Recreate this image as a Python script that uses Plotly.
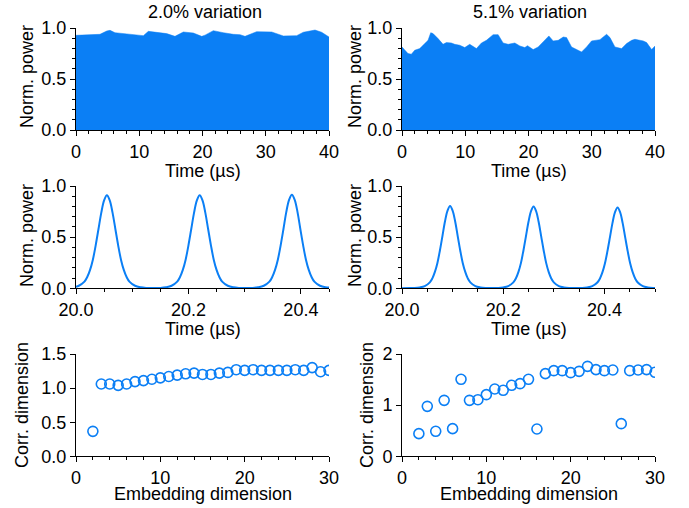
import plotly.graph_objects as go
from plotly.subplots import make_subplots

# --- row 1: pulse-train envelope over 40 us ---
env_t_a = [0, 1.69, 3.79, 4.85, 5.38, 6.17, 7.48, 9.06, 10.65, 11.44, 13.02, 14.33, 15.65,
           16.97, 18.55, 19.87, 20.4, 21.71, 23.29, 24.87, 25.93, 26.72, 28.56, 30.14, 30.94,
           32.78, 34.89, 35.94, 37.79, 38.84, 40]
env_p_a = [0.928, 0.935, 0.938, 0.97, 0.977, 0.954, 0.945, 0.935, 0.925, 0.967, 0.958, 0.945,
           0.918, 0.961, 0.951, 0.918, 0.93, 0.974, 0.954, 0.938, 0.935, 0.918, 0.964, 0.958,
           0.961, 0.922, 0.925, 0.958, 0.98, 0.958, 0.912]

env_t_b = [0, 0.42, 0.95, 1.48, 2.01, 2.80, 3.59, 4.12, 4.54, 4.91, 5.70, 6.49, 7.02, 7.81,
           8.34, 9.13, 9.92, 10.71, 11.77, 12.56, 13.35, 14.41, 15.20, 15.99, 16.78, 17.84,
           18.63, 19.42, 19.84, 20.74, 21.53, 22.32, 23.22, 23.90, 24.70, 25.49, 26.02, 26.81,
           27.60, 28.39, 29.18, 29.97, 31.29, 32.35, 32.88, 33.67, 34.72, 35.51, 36.31, 36.83,
           38.15, 38.68, 39.47, 40]
env_p_b = [0.814, 0.788, 0.749, 0.743, 0.782, 0.798, 0.847, 0.879, 0.954, 0.945, 0.896, 0.84,
           0.857, 0.853, 0.84, 0.831, 0.808, 0.84, 0.798, 0.853, 0.879, 0.935, 0.935, 0.853,
           0.84, 0.853, 0.824, 0.808, 0.827, 0.788, 0.814, 0.863, 0.922, 0.873, 0.879, 0.912,
           0.906, 0.814, 0.788, 0.765, 0.814, 0.873, 0.886, 0.938, 0.906, 0.814, 0.798, 0.847,
           0.879, 0.889, 0.873, 0.857, 0.788, 0.824]

# --- row 2: zoom on individual pulses ---
zoom_t_a = [20.000, 20.005, 20.015, 20.020, 20.025, 20.030, 20.035, 20.040, 20.045, 20.050,
            20.055, 20.060, 20.065, 20.070, 20.075, 20.080, 20.085, 20.090, 20.095, 20.105,
            20.115, 20.125, 20.137, 20.150, 20.160, 20.170, 20.180, 20.185, 20.190, 20.195,
            20.200, 20.205, 20.210, 20.215, 20.220, 20.225, 20.230, 20.235, 20.240, 20.245,
            20.250, 20.255, 20.260, 20.270, 20.280, 20.290, 20.302, 20.314, 20.324, 20.334,
            20.344, 20.349, 20.354, 20.359, 20.364, 20.369, 20.374, 20.379, 20.384, 20.389,
            20.394, 20.399, 20.404, 20.409, 20.414, 20.419, 20.424, 20.434, 20.444, 20.450]
zoom_p_a = [0.016, 0.025, 0.065, 0.11, 0.18, 0.28, 0.42, 0.58, 0.74, 0.86,
            0.91, 0.86, 0.74, 0.58, 0.42, 0.28, 0.18, 0.11, 0.065, 0.025,
            0.01, 0.004, 0.002, 0.004, 0.01, 0.025, 0.065, 0.11, 0.18, 0.28,
            0.42, 0.58, 0.74, 0.86, 0.91, 0.86, 0.74, 0.58, 0.42, 0.28,
            0.18, 0.11, 0.065, 0.025, 0.01, 0.004, 0.002, 0.004, 0.01, 0.025,
            0.065, 0.11, 0.18, 0.28, 0.42, 0.58, 0.745, 0.865, 0.915, 0.865,
            0.745, 0.58, 0.42, 0.28, 0.18, 0.11, 0.065, 0.025, 0.01, 0.007]

zoom_t_b = [20.000, 20.015, 20.025, 20.035, 20.045, 20.055, 20.060, 20.065, 20.070, 20.075,
            20.080, 20.085, 20.090, 20.095, 20.100, 20.105, 20.110, 20.115, 20.120, 20.125,
            20.130, 20.135, 20.145, 20.155, 20.165, 20.178, 20.190, 20.200, 20.210, 20.220,
            20.225, 20.230, 20.235, 20.240, 20.245, 20.250, 20.255, 20.260, 20.265, 20.270,
            20.275, 20.280, 20.285, 20.290, 20.295, 20.300, 20.310, 20.320, 20.330, 20.343,
            20.356, 20.366, 20.376, 20.386, 20.391, 20.396, 20.401, 20.406, 20.411, 20.416,
            20.421, 20.426, 20.431, 20.436, 20.441, 20.446, 20.451, 20.456, 20.461, 20.466,
            20.476, 20.486, 20.496, 20.500]
zoom_p_b = [0.001, 0.002, 0.0035, 0.009, 0.022, 0.058, 0.097, 0.16, 0.248, 0.372,
            0.513, 0.655, 0.76, 0.805, 0.76, 0.655, 0.513, 0.372, 0.248, 0.16,
            0.097, 0.058, 0.022, 0.009, 0.0035, 0.002, 0.0035, 0.009, 0.022, 0.058,
            0.096, 0.158, 0.246, 0.37, 0.51, 0.65, 0.755, 0.80, 0.755, 0.65,
            0.51, 0.37, 0.246, 0.158, 0.096, 0.058, 0.022, 0.009, 0.0035, 0.002,
            0.0035, 0.009, 0.021, 0.057, 0.094, 0.155, 0.242, 0.363, 0.50, 0.64,
            0.745, 0.79, 0.745, 0.64, 0.50, 0.363, 0.242, 0.155, 0.094, 0.057,
            0.021, 0.009, 0.0035, 0.003]

# --- row 3: correlation dimension vs embedding dimension ---
embed_dim = list(range(2, 31))
corr_dim_a = [0.366, 1.06, 1.06, 1.04, 1.06, 1.095, 1.11, 1.13, 1.15, 1.17, 1.19, 1.21, 1.22,
              1.20, 1.20, 1.22, 1.23, 1.27, 1.26, 1.27, 1.26, 1.26, 1.26, 1.26, 1.27, 1.26,
              1.30, 1.24, 1.26]
corr_dim_b = [0.443, 0.977, 0.489, 1.094, 0.541, 1.505, 1.094, 1.107, 1.205, 1.316, 1.29,
              1.388, 1.42, 1.505, 0.534, 1.616, 1.674, 1.674, 1.635, 1.661, 1.759, 1.694,
              1.674, 1.687, 0.638, 1.674, 1.687, 1.694, 1.642]

titles = ["2.0% variation", "5.1% variation"]

BLUE = "#0b7ff5"
FONT = "Liberation Sans, Arial, sans-serif"
W, H = 689, 508

fig = make_subplots(rows=3, cols=2)

fig.add_trace(go.Scatter(x=env_t_a, y=env_p_a, mode="lines", fill="tozeroy",
                         fillcolor=BLUE, line=dict(color=BLUE, width=0.5)), row=1, col=1)
fig.add_trace(go.Scatter(x=env_t_b, y=env_p_b, mode="lines", fill="tozeroy",
                         fillcolor=BLUE, line=dict(color=BLUE, width=0.5)), row=1, col=2)
fig.add_trace(go.Scatter(x=zoom_t_a, y=zoom_p_a, mode="lines", line_shape="spline",
                         line=dict(color=BLUE, width=2)), row=2, col=1)
fig.add_trace(go.Scatter(x=zoom_t_b, y=zoom_p_b, mode="lines", line_shape="spline",
                         line=dict(color=BLUE, width=2)), row=2, col=2)
for c, vals in [(1, corr_dim_a), (2, corr_dim_b)]:
    fig.add_trace(go.Scatter(x=embed_dim, y=vals, mode="markers",
                             marker=dict(symbol="circle-open", size=10, color=BLUE,
                                         line=dict(width=1.6, color=BLUE))), row=3, col=c)

# pixel layout of the panels
xdom = [(76, 329), (402, 655)]
ydom = [(28, 130), (186, 288.3), (354, 456.3)]

ax_common = dict(showline=True, linecolor="black", linewidth=1, ticks="outside",
                 ticklen=5, tickcolor="black", showgrid=False, zeroline=False,
                 automargin=False, tickfont=dict(size=18, color="black", family=FONT))

for r in range(3):
    for c in range(2):
        fig.update_xaxes(domain=[xdom[c][0] / W, xdom[c][1] / W], row=r + 1, col=c + 1, **ax_common)
        fig.update_yaxes(domain=[1 - ydom[r][1] / H, 1 - ydom[r][0] / H], row=r + 1, col=c + 1, **ax_common)

minor = lambda d: dict(dtick=d, ticks="outside", ticklen=3, tickcolor="black")

for c in (1, 2):
    fig.update_xaxes(range=[0, 40], dtick=10, minor=minor(2), row=1, col=c)
    fig.update_yaxes(range=[0, 1], dtick=0.5, tickformat=".1f", minor=minor(0.1), row=1, col=c)
    fig.update_yaxes(range=[0, 1], dtick=0.5, tickformat=".1f", minor=minor(0.1), row=2, col=c)
    fig.update_xaxes(range=[0, 30], dtick=10, minor=minor(2), row=3, col=c)
fig.update_xaxes(range=[20.0, 20.45], tick0=20, dtick=0.2, tickformat=".1f", minor=minor(0.05), row=2, col=1)
fig.update_xaxes(range=[20.0, 20.5], tick0=20, dtick=0.2, tickformat=".1f", minor=minor(0.05), row=2, col=2)
fig.update_yaxes(range=[0, 1.5], dtick=0.5, tickformat=".1f", row=3, col=1)
fig.update_yaxes(range=[0, 2], dtick=1, row=3, col=2)

# text labels
ann = []
def label(text, x, y, angle=0):
    ann.append(dict(text=text, x=x / W, y=1 - y / H, xref="paper", yref="paper",
                    showarrow=False, textangle=angle, xanchor="center", yanchor="middle",
                    font=dict(size=18, color="black", family=FONT)))

label(titles[0], 205, 12)
label(titles[1], 530, 12)
for c in range(2):
    cx = (xdom[c][0] + xdom[c][1]) / 2
    label("Time (\u00b5s)", cx, 171)
    label("Time (\u00b5s)", cx, 329)
    label("Embedding dimension", cx, 494)
label("Norm. power", 27, 77, -90)
label("Norm. power", 355, 77, -90)
label("Norm. power", 27, 236, -90)
label("Norm. power", 355, 236, -90)
label("Corr. dimension", 22, 405, -90)
label("Corr. dimension", 367, 405, -90)

fig.update_layout(width=W, height=H, margin=dict(l=0, r=0, t=0, b=0),
                  plot_bgcolor="white", paper_bgcolor="white", showlegend=False,
                  font=dict(family=FONT, size=18, color="black"), annotations=ann)

# the page's default body margin would push the figure 8 px off
fig.write_html("out.html", config={"displayModeBar": False},
               post_script="document.body.style.margin='0';")
